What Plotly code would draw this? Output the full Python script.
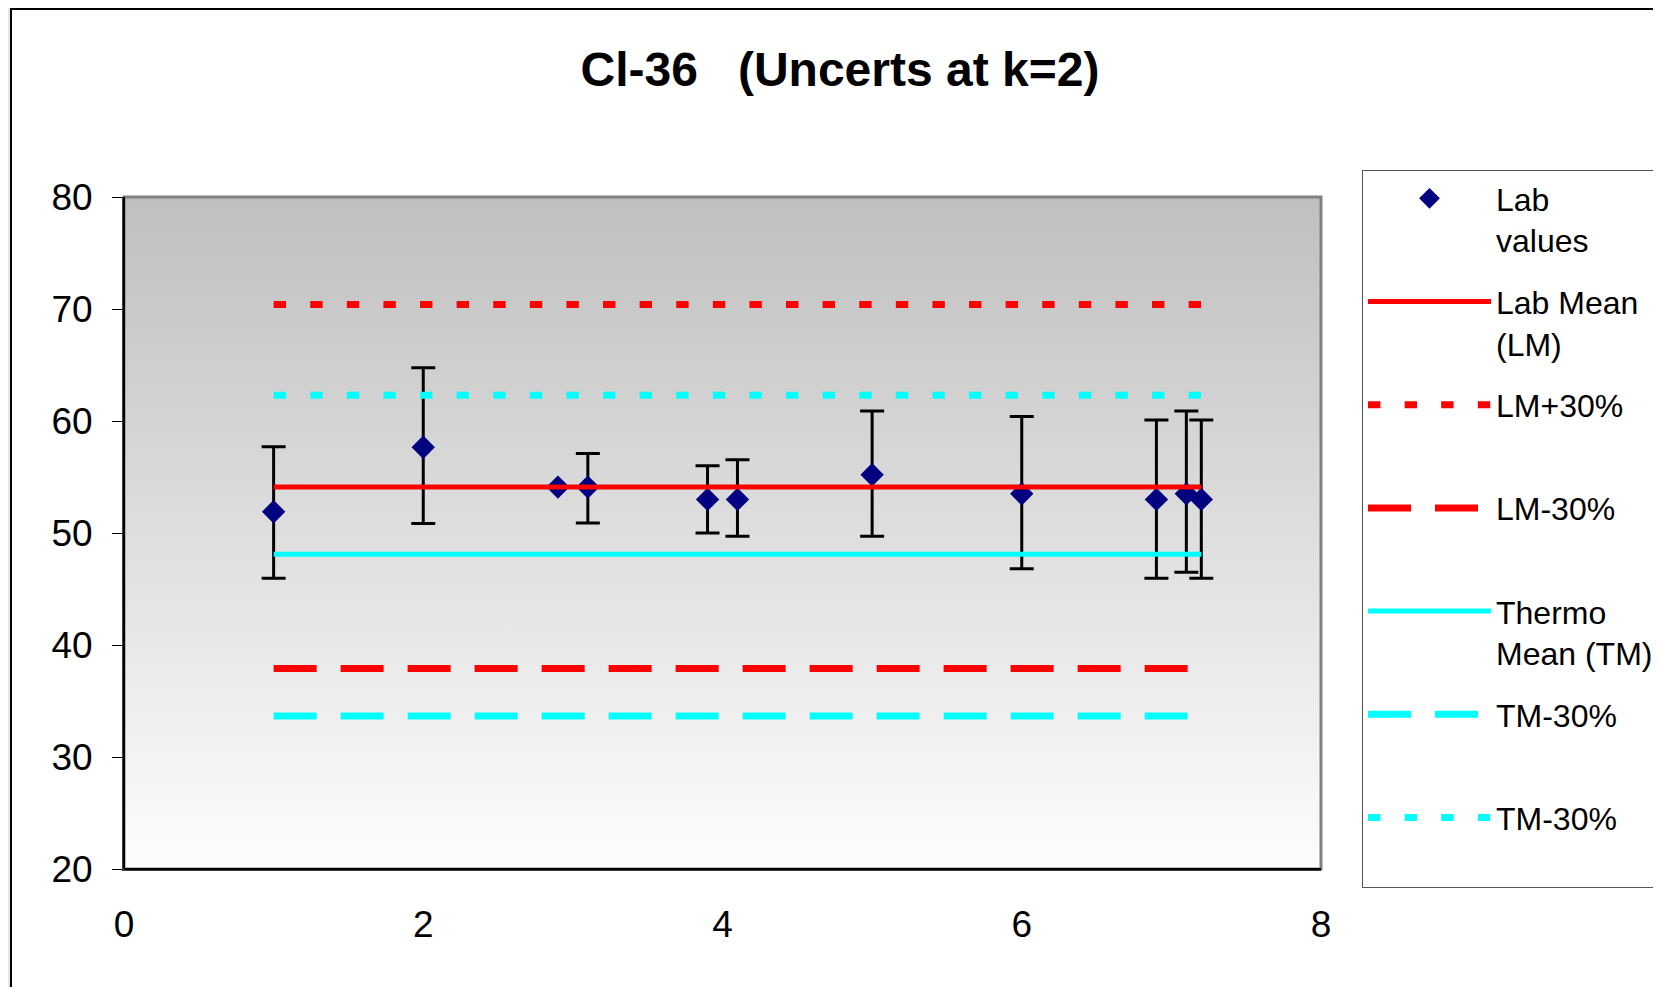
import plotly.graph_objects as go

# ---------------- data ----------------
lab_x = [1.0, 2.0, 2.9, 3.1, 3.9, 4.1, 5.0, 6.0, 6.9, 7.1, 7.2]
lab_y = [51.9, 57.65, 54.1, 54.1, 53.0, 53.0, 55.2, 53.5, 53.0, 53.5, 53.0]
err_plus = [5.8, 7.1, None, 3.0, 3.0, 3.55, 5.7, 6.9, 7.1, 7.4, 7.1]
err_minus = [5.95, 6.8, None, 3.2, 3.0, 3.3, 5.5, 6.7, 7.05, 7.0, 7.05]

lab_mean = 54.1
lm_plus30 = 70.4
lm_minus30 = 37.9
thermo_mean = 48.1
tm_minus30 = 33.65
tm_plus30 = 62.3

x_range = [0, 8]
y_range = [20, 80]
x_ticks = [0, 2, 4, 6, 8]
y_ticks = [20, 30, 40, 50, 60, 70, 80]

names = ["Lab<br>values", "Lab Mean<br>(LM)", "LM+30%<br> ", "LM-30%<br> ",
         "Thermo<br>Mean (TM)", "TM-30%<br> ", "TM-30%<br> "]

FONT = "Liberation Sans, Arial, sans-serif"

line_x = [min(lab_x), max(lab_x)]

fig = go.Figure()

# gradient plot-area background
fig.add_trace(go.Scatter(
    x=[x_range[0], x_range[1], x_range[1], x_range[0], x_range[0]],
    y=[y_range[0], y_range[0], y_range[1], y_range[1], y_range[0]],
    mode="none", fill="toself",
    fillgradient=dict(type="vertical", colorscale=[[0, "#fdfdfd"], [1, "#bfbfbf"]]),
    showlegend=False, hoverinfo="skip"))

fig.add_trace(go.Scatter(
    x=lab_x, y=lab_y, mode="markers", name=names[0], legendgroup="g0",
    marker=dict(symbol="diamond", size=18, color="#000080"),
    error_y=dict(type="data", symmetric=False, array=err_plus, arrayminus=err_minus,
                 color="black", thickness=3, width=12)))

def hline(y, color, dash, width, name, group):
    fig.add_trace(go.Scatter(
        x=line_x, y=[y, y], mode="lines", name=name, legendgroup=group,
        line=dict(color=color, dash=dash, width=width)))

DOT = "12.4px,24.2px"
DASH = "43px,24px"
hline(lab_mean, "#ff0000", "solid", 5, names[1], "g1")
hline(lm_plus30, "#ff0000", DOT, 7, names[2], "g2")
hline(lm_minus30, "#ff0000", DASH, 7, names[3], "g3")
hline(thermo_mean, "#00ffff", "solid", 5, names[4], "g4")
hline(tm_minus30, "#00ffff", DASH, 7, names[5], "g5")
hline(tm_plus30, "#00ffff", DOT, 7, names[6], "g6")

# page body has an 8px margin: positions below are screenshot coords minus 8
OFF = 8
W, H = 1661, 987
L = 124 - OFF
T = 197 - OFF
R = W - (1321 - OFF)
B = H - (869 - OFF)
pw = W - L - R
ph = H - T - B

fig.update_layout(
    width=W, height=H,
    margin=dict(l=L, r=R, t=T, b=B, autoexpand=False),
    paper_bgcolor="#e6e6e6",
    plot_bgcolor="rgba(0,0,0,0)",
    font=dict(family=FONT, color="black"),
    title=dict(text="Cl-36\u00a0\u00a0 (Uncerts at k=2)",
               font=dict(family=FONT, size=48, color="black", weight="bold"),
               xref="container", x=(840 - OFF) / W, xanchor="center",
               yref="container", y=1 - (69 - OFF) / H, yanchor="middle"),
    xaxis=dict(range=x_range, tickvals=x_ticks, showgrid=False, zeroline=False,
               showline=True, linecolor="black", linewidth=2,
               ticks="", tickfont=dict(size=37, family=FONT),
               ticklabelstandoff=22),
    yaxis=dict(range=y_range, tickvals=y_ticks, showgrid=False, zeroline=False,
               showline=True, linecolor="black", linewidth=2,
               ticks="outside", ticklen=10, tickwidth=1, tickcolor="black",
               tickfont=dict(size=37, family=FONT), ticklabelstandoff=12),
    legend=dict(x=(1362 - OFF - L) / pw, xanchor="left",
                y=(H - B - (170 - OFF)) / ph, yanchor="top",
                bgcolor="white", bordercolor="#555555", borderwidth=1,
                font=dict(size=32, family=FONT, color="black"),
                itemwidth=123, valign="top", tracegroupgap=17,
                traceorder="grouped", itemclick=False, itemdoubleclick=False,
                maxheight=900),
    shapes=[
        # chart area (white with black border)
        dict(type="rect", xref="paper", yref="paper",
             x0=(11 - OFF - L) / pw, x1=(W + 20 - L) / pw,
             y0=-(B + 20) / ph, y1=(H - B - 1) / ph,
             fillcolor="white", line=dict(color="black", width=2), layer="below"),
        # plot-area frame (grey top/right)
        dict(type="rect", xref="paper", yref="paper", x0=0, x1=1, y0=0, y1=1,
             line=dict(color="#808080", width=3), layer="above"),
        dict(type="line", xref="paper", yref="paper", x0=0, x1=0, y0=0, y1=1,
             line=dict(color="black", width=2), layer="above"),
        dict(type="line", xref="paper", yref="paper", x0=0, x1=1, y0=0, y1=0,
             line=dict(color="black", width=2), layer="above"),
    ],
)

fig.write_html("out.html")
